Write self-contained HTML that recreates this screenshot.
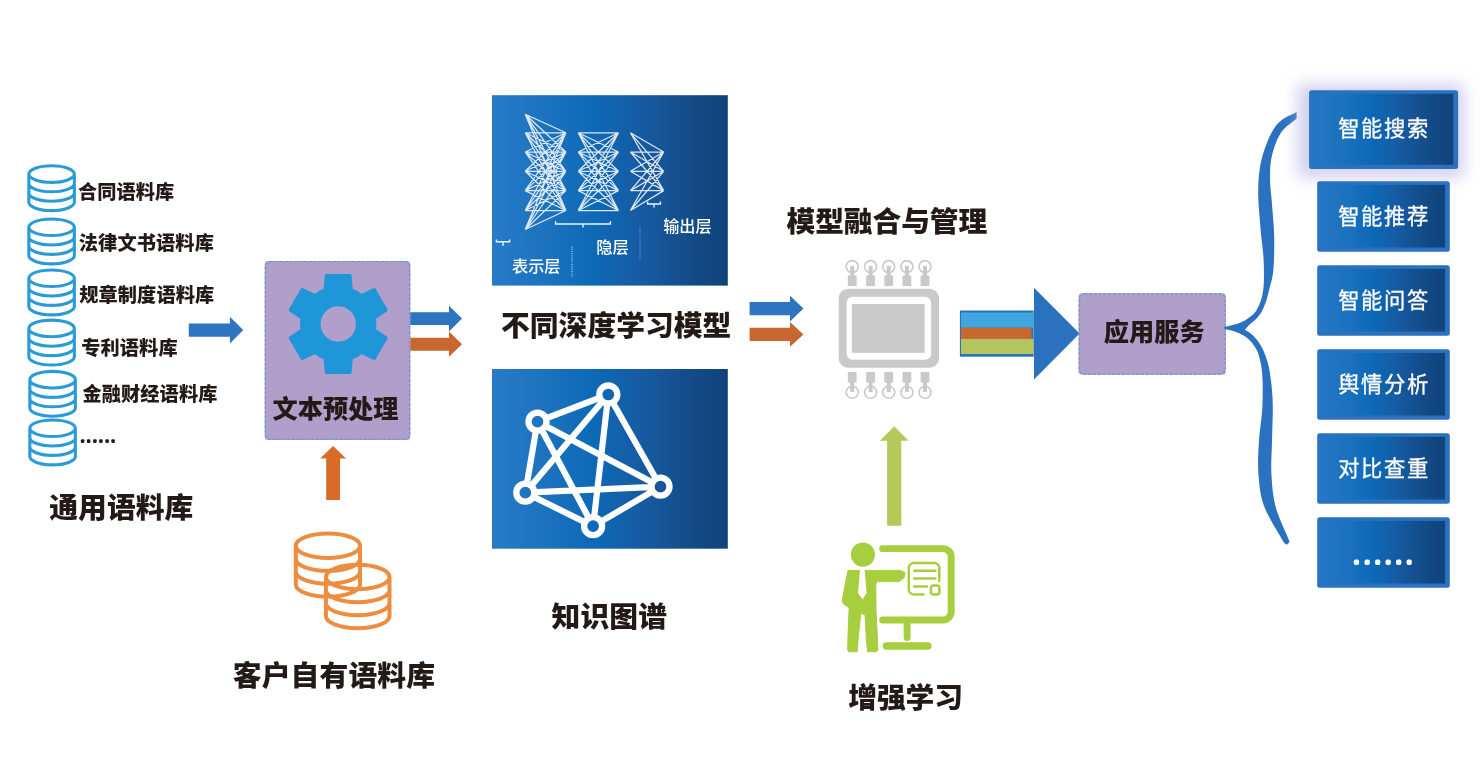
<!DOCTYPE html>
<html lang="zh-CN"><head><meta charset="utf-8"><title>智能文本处理平台架构</title>
<style>
html,body{margin:0;padding:0;background:#fff;}
body{width:1483px;height:765px;overflow:hidden;}
svg{display:block;font-family:"Liberation Sans","Noto Sans CJK SC",sans-serif;will-change:transform;}
text{white-space:pre;}
</style></head><body>
<svg width="1483" height="765" viewBox="0 0 1483 765">
<defs>
<linearGradient id="gb" gradientUnits="userSpaceOnUse" x1="492" y1="0" x2="727.8" y2="0">
<stop offset="0" stop-color="#277ac7"/><stop offset="0.22" stop-color="#1c73be"/><stop offset="0.43" stop-color="#0d69b7"/><stop offset="0.62" stop-color="#165ca3"/><stop offset="0.82" stop-color="#144d8b"/><stop offset="1" stop-color="#0f4279"/>
</linearGradient>
<linearGradient id="gs" x1="0" y1="0" x2="1" y2="0">
<stop offset="0" stop-color="#2677c5"/><stop offset="0.22" stop-color="#1c72bd"/><stop offset="0.43" stop-color="#0d69b7"/><stop offset="0.62" stop-color="#165ba2"/><stop offset="0.82" stop-color="#134c89"/><stop offset="1" stop-color="#0f437b"/>
</linearGradient>
<filter id="glow" x="-30%" y="-50%" width="160%" height="200%"><feGaussianBlur stdDeviation="8"/></filter>
</defs>
<path d="M28.85 174.05 A22.75 8.3 0 1 0 74.35 174.05 A22.75 8.3 0 1 0 28.85 174.05 Z M28.85 183.48 A22.75 8.3 0 0 0 74.35 183.48 M28.85 192.92 A22.75 8.3 0 0 0 74.35 192.92 M28.85 202.35 A22.75 8.3 0 0 0 74.35 202.35 M28.85 174.05 V202.35 M74.35 174.05 V202.35" fill="none" stroke="#2b9bd7" stroke-width="3.1"/>
<path d="M28.85 227.25 A22.75 8.3 0 1 0 74.35 227.25 A22.75 8.3 0 1 0 28.85 227.25 Z M28.85 236.68 A22.75 8.3 0 0 0 74.35 236.68 M28.85 246.12 A22.75 8.3 0 0 0 74.35 246.12 M28.85 255.55 A22.75 8.3 0 0 0 74.35 255.55 M28.85 227.25 V255.55 M74.35 227.25 V255.55" fill="none" stroke="#2b9bd7" stroke-width="3.1"/>
<path d="M28.85 278.25 A22.75 8.3 0 1 0 74.35 278.25 A22.75 8.3 0 1 0 28.85 278.25 Z M28.85 287.68 A22.75 8.3 0 0 0 74.35 287.68 M28.85 297.12 A22.75 8.3 0 0 0 74.35 297.12 M28.85 306.55 A22.75 8.3 0 0 0 74.35 306.55 M28.85 278.25 V306.55 M74.35 278.25 V306.55" fill="none" stroke="#2b9bd7" stroke-width="3.1"/>
<path d="M28.85 328.45 A22.75 8.3 0 1 0 74.35 328.45 A22.75 8.3 0 1 0 28.85 328.45 Z M28.85 337.88 A22.75 8.3 0 0 0 74.35 337.88 M28.85 347.32 A22.75 8.3 0 0 0 74.35 347.32 M28.85 356.75 A22.75 8.3 0 0 0 74.35 356.75 M28.85 328.45 V356.75 M74.35 328.45 V356.75" fill="none" stroke="#2b9bd7" stroke-width="3.1"/>
<path d="M29.85 379.65 A22.75 8.3 0 1 0 75.35 379.65 A22.75 8.3 0 1 0 29.85 379.65 Z M29.85 389.08 A22.75 8.3 0 0 0 75.35 389.08 M29.85 398.52 A22.75 8.3 0 0 0 75.35 398.52 M29.85 407.95 A22.75 8.3 0 0 0 75.35 407.95 M29.85 379.65 V407.95 M75.35 379.65 V407.95" fill="none" stroke="#2b9bd7" stroke-width="3.1"/>
<path d="M29.85 428.25 A22.75 8.3 0 1 0 75.35 428.25 A22.75 8.3 0 1 0 29.85 428.25 Z M29.85 437.68 A22.75 8.3 0 0 0 75.35 437.68 M29.85 447.12 A22.75 8.3 0 0 0 75.35 447.12 M29.85 456.55 A22.75 8.3 0 0 0 75.35 456.55 M29.85 428.25 V456.55 M75.35 428.25 V456.55" fill="none" stroke="#2b9bd7" stroke-width="3.1"/>
<text x="77.9" y="199.4" font-size="19.2" font-weight="900" fill="#231a17" text-anchor="start" letter-spacing="0.12">合同语料库</text>
<text x="78.8" y="250.2" font-size="19.2" font-weight="900" fill="#231a17" text-anchor="start" letter-spacing="0.12">法律文书语料库</text>
<text x="79.2" y="302.4" font-size="19.2" font-weight="900" fill="#231a17" text-anchor="start" letter-spacing="0.12">规章制度语料库</text>
<text x="81.2" y="355.4" font-size="19.2" font-weight="900" fill="#231a17" text-anchor="start" letter-spacing="0.12">专利语料库</text>
<text x="82.4" y="401.2" font-size="19.2" font-weight="900" fill="#231a17" text-anchor="start" letter-spacing="0.12">金融财经语料库</text>
<text x="81.2" y="441.6" font-size="10" font-weight="700" fill="#231a17" text-anchor="start" letter-spacing="3.34" stroke="#231a17" stroke-width="2.1" stroke-linejoin="round">......</text>
<text x="49.3" y="518" font-size="28.8" font-weight="900" fill="#231a17" text-anchor="start" letter-spacing="0.02">通用语料库</text>
<polygon points="188.8,323.5 229.9,323.5 229.9,316.7 243.2,330.1 229.9,343.5 229.9,336.7 188.8,336.7" fill="#2d74c1"/>
<rect x="264.7" y="260.9" width="145.6" height="179" rx="3.5" fill="#b09ecb"/>
<rect x="265.3" y="261.5" width="144.4" height="177.8" rx="5" fill="none" stroke="#6593d0" stroke-width="1.1" stroke-dasharray="3.2 1.6"/>
<path d="M350.95 289.91 L349.86 275.79 L326.54 275.79 L325.45 289.91 A36.4 36.4 0 0 0 315.05 295.91 L302.28 289.79 L290.62 310 L302.3 317.99 A36.4 36.4 0 0 0 302.3 330.01 L290.62 338 L302.28 358.21 L315.05 352.09 A36.4 36.4 0 0 0 325.45 358.09 L326.54 372.21 L349.86 372.21 L350.95 358.09 A36.4 36.4 0 0 0 361.35 352.09 L374.12 358.21 L385.78 338 L374.1 330.01 A36.4 36.4 0 0 0 374.1 317.99 L385.78 310 L374.12 289.79 L361.35 295.91 A36.4 36.4 0 0 0 350.95 289.91 Z M318.7 324 A19.5 19.5 0 1 0 357.7 324 A19.5 19.5 0 1 0 318.7 324 Z" fill="#1f96d8" fill-rule="evenodd" stroke="#1f96d8" stroke-width="3.6" stroke-linejoin="round"/>
<text x="335.5" y="418.3" font-size="25.2" font-weight="900" fill="#231a17" text-anchor="middle" >文本预处理</text>
<polygon points="410.3,312.3 449,312.3 449,305.8 462,318.6 449,331.4 449,324.9 410.3,324.9" fill="#2d74c1"/>
<polygon points="410.3,337.7 449,337.7 449,331.6 462,344.2 449,356.8 449,350.7 410.3,350.7" fill="#c8672f"/>
<polygon points="333.1,445.9 346.1,458.5 340,458.5 340,500 326.2,500 326.2,458.5 320.1,458.5" fill="#d86b27"/>
<path d="M295.8 545.8 A32.1 12.2 0 1 0 360 545.8 A32.1 12.2 0 1 0 295.8 545.8 Z M295.8 558.67 A32.1 12.2 0 0 0 360 558.67 M295.8 571.53 A32.1 12.2 0 0 0 360 571.53 M295.8 584.4 A32.1 12.2 0 0 0 360 584.4 M295.8 545.8 V584.4 M360 545.8 V584.4" fill="none" stroke="#ee8c40" stroke-width="4"/>
<path d="M325.9 577 A31.8 12.2 0 1 0 389.5 577 A31.8 12.2 0 1 0 325.9 577 Z M325.9 590 A31.8 12.2 0 0 0 389.5 590 M325.9 603 A31.8 12.2 0 0 0 389.5 603 M325.9 616 A31.8 12.2 0 0 0 389.5 616 M325.9 577 V616 M389.5 577 V616" fill="none" stroke="#ee8c40" stroke-width="4"/>
<text x="232.8" y="686.1" font-size="28.8" font-weight="900" fill="#231a17" text-anchor="start" letter-spacing="0.1">客户自有语料库</text>
<rect x="492" y="95.2" width="235.8" height="190.4" fill="url(#gb)"/>
<path d="M525.2 114.3L565.9 132.8M525.2 114.3L565.9 152M525.2 114.3L565.9 171.3M525.2 114.3L565.9 190.6M525.2 114.3L565.9 210.5M525.2 132.8L565.9 132.8M525.2 132.8L565.9 152M525.2 132.8L565.9 171.3M525.2 132.8L565.9 190.6M525.2 132.8L565.9 210.5M525.2 152L565.9 132.8M525.2 152L565.9 152M525.2 152L565.9 171.3M525.2 152L565.9 190.6M525.2 152L565.9 210.5M525.2 171.3L565.9 132.8M525.2 171.3L565.9 152M525.2 171.3L565.9 171.3M525.2 171.3L565.9 190.6M525.2 171.3L565.9 210.5M525.2 190.6L565.9 132.8M525.2 190.6L565.9 152M525.2 190.6L565.9 171.3M525.2 190.6L565.9 190.6M525.2 190.6L565.9 210.5M525.2 210.5L565.9 132.8M525.2 210.5L565.9 152M525.2 210.5L565.9 171.3M525.2 210.5L565.9 190.6M525.2 210.5L565.9 210.5M525.2 229.5L565.9 132.8M525.2 229.5L565.9 152M525.2 229.5L565.9 171.3M525.2 229.5L565.9 190.6M525.2 229.5L565.9 210.5M578.2 132.8L618.5 132.8M578.2 132.8L618.5 152M578.2 132.8L618.5 171.3M578.2 132.8L618.5 190.6M578.2 132.8L618.5 210.5M578.2 152L618.5 132.8M578.2 152L618.5 152M578.2 152L618.5 171.3M578.2 152L618.5 190.6M578.2 152L618.5 210.5M578.2 171.3L618.5 132.8M578.2 171.3L618.5 152M578.2 171.3L618.5 171.3M578.2 171.3L618.5 190.6M578.2 171.3L618.5 210.5M578.2 190.6L618.5 132.8M578.2 190.6L618.5 152M578.2 190.6L618.5 171.3M578.2 190.6L618.5 190.6M578.2 190.6L618.5 210.5M578.2 210.5L618.5 132.8M578.2 210.5L618.5 152M578.2 210.5L618.5 171.3M578.2 210.5L618.5 190.6M578.2 210.5L618.5 210.5M630.4 132.8L663.7 152M630.4 132.8L663.7 171.3M630.4 132.8L663.7 190.6M630.4 152L663.7 152M630.4 152L663.7 171.3M630.4 152L663.7 190.6M630.4 171.3L663.7 152M630.4 171.3L663.7 171.3M630.4 171.3L663.7 190.6M630.4 190.6L663.7 152M630.4 190.6L663.7 171.3M630.4 190.6L663.7 190.6M630.4 210.5L663.7 152M630.4 210.5L663.7 171.3M630.4 210.5L663.7 190.6" stroke="#eef2fa" stroke-width="1.25" stroke-opacity="0.92" fill="none"/>
<path d="M555.6 221.2V224H610.4V221.2M583 224V227.6" stroke="#eef4fc" stroke-width="1.4" fill="none"/>
<path d="M496.4 239.4V241.8H509.6V239.4M503 241.8V246" stroke="#eef4fc" stroke-width="1.4" fill="none"/>
<path d="M647.6 201.4V204H660.4V201.4M654 204V207.4" stroke="#eef4fc" stroke-width="1.4" fill="none"/>
<path d="M572 246.5V277.5" stroke="#6cc0f6" stroke-width="1.5" stroke-dasharray="1.2 1" fill="none"/>
<path d="M640 226.5V260" stroke="#5b9fdc" stroke-width="1.2" stroke-dasharray="1.2 1" fill="none" opacity="0.85"/>
<text x="663.2" y="232" font-size="16.2" font-weight="500" fill="#fff" text-anchor="start" >输出层</text>
<text x="596.2" y="252.9" font-size="16.3" font-weight="500" fill="#fff" text-anchor="start" >隐层</text>
<text x="512" y="272" font-size="16.2" font-weight="500" fill="#fff" text-anchor="start" >表示层</text>
<text x="501" y="336.2" font-size="28.8" font-weight="900" fill="#231a17" text-anchor="start" letter-spacing="0">不同深度学习模型</text>
<rect x="492" y="369" width="235.8" height="179.7" fill="url(#gb)"/>
<path d="M608.3 394.5L537.5 421.7M608.3 394.5L525.3 492.7M608.3 394.5L593.1 526.2M608.3 394.5L660.5 486.7M537.5 421.7L525.3 492.7M537.5 421.7L593.1 526.2M537.5 421.7L660.5 486.7M525.3 492.7L593.1 526.2M525.3 492.7L660.5 486.7M593.1 526.2L660.5 486.7" stroke="#fff" stroke-width="6.2" fill="none"/>
<circle cx="608.3" cy="394.5" r="9" fill="url(#gb)" stroke="#fff" stroke-width="6.3"/>
<circle cx="537.5" cy="421.7" r="9" fill="url(#gb)" stroke="#fff" stroke-width="6.3"/>
<circle cx="525.3" cy="492.7" r="9" fill="url(#gb)" stroke="#fff" stroke-width="6.3"/>
<circle cx="593.1" cy="526.2" r="9" fill="url(#gb)" stroke="#fff" stroke-width="6.3"/>
<circle cx="660.5" cy="486.7" r="9" fill="url(#gb)" stroke="#fff" stroke-width="6.3"/>
<text x="551.5" y="626.95" font-size="28.8" font-weight="900" fill="#231a17" text-anchor="start" letter-spacing="0.1">知识图谱</text>
<text x="786.5" y="231.8" font-size="28.8" font-weight="900" fill="#231a17" text-anchor="start" letter-spacing="-0.13">模型融合与管理</text>
<polygon points="749.6,301.9 790,301.9 790,295.8 803.5,308.6 790,321.4 790,315.3 749.6,315.3" fill="#2d74c1"/>
<polygon points="749.6,327.7 790,327.7 790,322 803.5,334.4 790,346.8 790,341.1 749.6,341.1" fill="#c8672f"/>
<rect x="838.7" y="288.8" width="100.3" height="78.9" rx="9.5" fill="#c9c9c9"/>
<rect x="846.6" y="296.7" width="84.5" height="63.1" rx="6" fill="#fff"/>
<rect x="851.9" y="304" width="72.7" height="48.8" fill="#c9c9c9"/>
<rect x="847.8" y="275.5" width="8.8" height="10.6" fill="#c9c9c9"/>
<rect x="850.2" y="266" width="4" height="10" fill="#c9c9c9"/>
<circle cx="852.2" cy="266.6" r="6" fill="none" stroke="#c9c9c9" stroke-width="1.6"/>
<rect x="847.8" y="372" width="8.8" height="10.6" fill="#c9c9c9"/>
<rect x="850.2" y="382" width="4" height="10" fill="#c9c9c9"/>
<circle cx="852.2" cy="392.2" r="6" fill="none" stroke="#c9c9c9" stroke-width="1.6"/>
<rect x="866.2" y="275.5" width="8.8" height="10.6" fill="#c9c9c9"/>
<rect x="868.6" y="266" width="4" height="10" fill="#c9c9c9"/>
<circle cx="870.6" cy="266.6" r="6" fill="none" stroke="#c9c9c9" stroke-width="1.6"/>
<rect x="866.2" y="372" width="8.8" height="10.6" fill="#c9c9c9"/>
<rect x="868.6" y="382" width="4" height="10" fill="#c9c9c9"/>
<circle cx="870.6" cy="392.2" r="6" fill="none" stroke="#c9c9c9" stroke-width="1.6"/>
<rect x="884.3" y="275.5" width="8.8" height="10.6" fill="#c9c9c9"/>
<rect x="886.7" y="266" width="4" height="10" fill="#c9c9c9"/>
<circle cx="888.7" cy="266.6" r="6" fill="none" stroke="#c9c9c9" stroke-width="1.6"/>
<rect x="884.3" y="372" width="8.8" height="10.6" fill="#c9c9c9"/>
<rect x="886.7" y="382" width="4" height="10" fill="#c9c9c9"/>
<circle cx="888.7" cy="392.2" r="6" fill="none" stroke="#c9c9c9" stroke-width="1.6"/>
<rect x="902.5" y="275.5" width="8.8" height="10.6" fill="#c9c9c9"/>
<rect x="904.9" y="266" width="4" height="10" fill="#c9c9c9"/>
<circle cx="906.9" cy="266.6" r="6" fill="none" stroke="#c9c9c9" stroke-width="1.6"/>
<rect x="902.5" y="372" width="8.8" height="10.6" fill="#c9c9c9"/>
<rect x="904.9" y="382" width="4" height="10" fill="#c9c9c9"/>
<circle cx="906.9" cy="392.2" r="6" fill="none" stroke="#c9c9c9" stroke-width="1.6"/>
<rect x="920.6" y="275.5" width="8.8" height="10.6" fill="#c9c9c9"/>
<rect x="923" y="266" width="4" height="10" fill="#c9c9c9"/>
<circle cx="925" cy="266.6" r="6" fill="none" stroke="#c9c9c9" stroke-width="1.6"/>
<rect x="920.6" y="372" width="8.8" height="10.6" fill="#c9c9c9"/>
<rect x="923" y="382" width="4" height="10" fill="#c9c9c9"/>
<circle cx="925" cy="392.2" r="6" fill="none" stroke="#c9c9c9" stroke-width="1.6"/>
<rect x="959.9" y="310.5" width="73.8" height="46.2" fill="#2a70bd"/>
<rect x="961" y="312.5" width="72.6" height="15.2" fill="#42a6de"/>
<rect x="961" y="327.7" width="70.6" height="11.2" fill="#c8682f"/>
<rect x="961" y="338.9" width="72.6" height="15.1" fill="#b4c55f"/>
<polygon points="1034,287.8 1079.6,333.4 1034,379.4" fill="#2a72c0"/>
<rect x="1078.6" y="293.3" width="147.2" height="81.4" rx="3.5" fill="#b09ecb"/>
<rect x="1079.2" y="293.9" width="146" height="80.2" rx="5" fill="none" stroke="#6593d0" stroke-width="1.1" stroke-dasharray="3.2 1.6"/>
<text x="1154.2" y="340.9" font-size="25.2" font-weight="900" fill="#231a17" text-anchor="middle" >应用服务</text>
<polygon points="894.2,426.2 908.6,440.7 901.3,440.7 901.3,525.7 887.1,525.7 887.1,440.7 879.8,440.7" fill="#b3ca5b"/>
<circle cx="862.9" cy="554.6" r="12.1" fill="#a6ce3e"/>
<polygon points="848,570.4 900,570.4 905.2,572.5 904,578 899,581.6 877,581.6 875.8,584 876,610 878,650 876,651.7 867.6,651.7 866.4,640 865,614.6 860.8,613.6 858,640 857.2,651.7 848.6,651.7 847.6,649 848.6,620 849.2,608 843,603.5 842.3,600 845,585" fill="#a6ce3e" stroke="#a6ce3e" stroke-width="1" stroke-linejoin="round"/>
<polygon points="860,569.5 864.6,569.5 866.6,593 862.6,599.4 858,593" fill="#fff"/>
<path d="M882.6 548.65H943a8.2 8.2 0 0 1 8.2 8.2V611.8a8.2 8.2 0 0 1 -8.2 8.2H882.6" fill="none" stroke="#a6ce3e" stroke-width="6.9" stroke-linecap="round"/>
<path d="M907.1 623V637.5" stroke="#a6ce3e" stroke-width="7" stroke-linecap="round"/>
<path d="M886.4 646H928" stroke="#a6ce3e" stroke-width="7.4" stroke-linecap="round"/>
<path d="M923.5 594.4H913.8a5 5 0 0 1 -5-5V568.1a5 5 0 0 1 5-5H934.3a5 5 0 0 1 5 5V581" fill="none" stroke="#a6ce3e" stroke-width="2.5" stroke-linecap="round"/>
<rect x="931" y="585.6" width="8.4" height="8.8" rx="2.5" fill="none" stroke="#a6ce3e" stroke-width="2.5"/>
<path d="M914.2 570.8H935.4M914.2 578.6H935.4M914.2 586.6H927" stroke="#a6ce3e" stroke-width="2.5" stroke-linecap="round"/>
<text x="848.35" y="708.3" font-size="28.8" font-weight="900" fill="#231a17" text-anchor="start" letter-spacing="-0.2">增强学习</text>
<polygon points="1296.6,111.9 1294.33,113.13 1291.13,114.66 1287.36,116.55 1283.41,118.87 1279.63,121.66 1276.4,125 1273.62,129.04 1270.98,133.77 1268.51,138.98 1266.27,144.46 1264.28,150.01 1262.6,155.4 1261.25,160.63 1260.19,165.86 1259.4,171.14 1258.83,176.56 1258.44,182.15 1258.2,188 1258.17,194.24 1258.41,200.85 1258.83,207.64 1259.35,214.44 1259.9,221.05 1260.4,227.3 1260.92,233.16 1261.53,238.79 1262.16,244.23 1262.76,249.54 1263.26,254.78 1263.6,260 1263.8,265.29 1263.93,270.62 1263.96,275.88 1263.87,280.94 1263.62,285.69 1263.2,290 1262.57,293.88 1261.74,297.41 1260.76,300.64 1259.68,303.56 1258.54,306.21 1257.4,308.6 1256.25,310.64 1255.05,312.3 1253.8,313.69 1252.48,314.9 1251.09,316.03 1249.6,317.2 1248.05,318.37 1246.45,319.47 1244.78,320.49 1242.99,321.44 1241.08,322.35 1239,323.2 1236.53,324.03 1233.65,324.83 1230.64,325.57 1227.77,326.24 1225.33,326.79 1223.6,327.2 1224.97,329.03 1226.89,329.48 1229.15,330.01 1231.56,330.62 1233.91,331.29 1236,332 1237.89,332.75 1239.73,333.56 1241.53,334.43 1243.24,335.36 1244.88,336.35 1246.4,337.4 1247.81,338.51 1249.11,339.67 1250.33,340.89 1251.47,342.18 1252.55,343.55 1253.6,345 1254.6,346.46 1255.54,347.9 1256.43,349.43 1257.27,351.12 1258.05,353.08 1258.8,355.4 1259.52,358.03 1260.22,360.89 1260.88,364.01 1261.46,367.44 1261.94,371.23 1262.3,375.4 1262.54,380.1 1262.68,385.33 1262.72,390.91 1262.67,396.66 1262.53,402.42 1262.3,408 1261.91,413.44 1261.34,418.89 1260.69,424.34 1260.02,429.8 1259.43,435.25 1259,440.7 1258.67,446.15 1258.37,451.6 1258.14,457.06 1258.04,462.51 1258.11,467.96 1258.4,473.4 1258.81,478.8 1259.29,484.15 1259.94,489.49 1260.87,494.89 1262.19,500.37 1264,506 1266.67,512.22 1270.19,519.08 1274.1,526.04 1277.93,532.54 1281.22,538.04 1283.5,542 1283.83,542.35 1284.28,542.89 1284.82,543.49 1285.4,544.06 1285.97,544.47 1286.5,544.6 1287.04,544.42 1287.63,544 1288.22,543.43 1288.76,542.77 1289.17,542.11 1289.4,541.5 1289.55,541.27 1289.67,541.42 1289.67,541.56 1289.46,541.29 1288.93,540.24 1288,538 1286.45,534.32 1284.31,529.47 1281.86,523.82 1279.38,517.77 1277.13,511.7 1275.4,506 1274.18,500.6 1273.26,495.18 1272.58,489.74 1272.07,484.3 1271.7,478.85 1271.4,473.4 1271.23,468.03 1271.26,462.75 1271.41,457.46 1271.62,452.09 1271.84,446.53 1272,440.7 1272.16,434.45 1272.37,427.83 1272.59,421.03 1272.76,414.24 1272.81,407.66 1272.7,401.5 1272.4,395.64 1271.96,389.89 1271.41,384.36 1270.77,379.14 1270.09,374.32 1269.4,370 1268.67,366.25 1267.88,363.02 1267.04,360.19 1266.17,357.66 1265.29,355.3 1264.4,353 1263.52,350.84 1262.64,348.9 1261.74,347.15 1260.81,345.52 1259.83,343.95 1258.8,342.4 1257.69,340.85 1256.5,339.35 1255.27,337.92 1254.03,336.57 1252.8,335.32 1251.6,334.2 1250.36,333.18 1249.05,332.26 1247.75,331.44 1246.55,330.73 1245.54,330.15 1244.8,329.7 1245.31,329.15 1245.99,328.39 1246.81,327.49 1247.72,326.51 1248.66,325.53 1249.6,324.6 1250.56,323.73 1251.59,322.87 1252.66,322.01 1253.74,321.11 1254.8,320.18 1255.8,319.2 1256.76,318.19 1257.69,317.17 1258.6,316.11 1259.49,314.99 1260.36,313.76 1261.2,312.4 1262.02,310.92 1262.82,309.33 1263.6,307.65 1264.36,305.87 1265.09,303.98 1265.8,302 1266.48,299.92 1267.13,297.76 1267.75,295.49 1268.36,293.12 1268.98,290.62 1269.6,288 1270.27,285.37 1270.98,282.75 1271.69,280.02 1272.36,277.03 1272.94,273.63 1273.4,269.7 1273.74,265.08 1274,259.86 1274.18,254.24 1274.27,248.43 1274.28,242.61 1274.2,237 1274,231.49 1273.68,225.89 1273.27,220.29 1272.83,214.79 1272.39,209.46 1272,204.4 1271.61,199.62 1271.17,195.07 1270.74,190.69 1270.36,186.44 1270.1,182.3 1270,178.2 1270.02,174.2 1270.11,170.35 1270.31,166.59 1270.67,162.87 1271.22,159.16 1272,155.4 1273.02,151.5 1274.24,147.47 1275.65,143.45 1277.25,139.55 1279.04,135.89 1281,132.6 1283.4,129.6 1286.29,126.76 1289.36,124.17 1292.31,121.9 1294.83,120.02 1296.6,118.6" fill="#2a72c0"/>
<rect x="1297" y="84" width="167" height="94" rx="4" fill="#b5b1e6" opacity="0.6" filter="url(#glow)"/>
<rect x="1309.1" y="90.2" width="149" height="78.8" rx="2.5" fill="#2a71bf"/><rect x="1310.1" y="93.8" width="143.2" height="71" fill="url(#gs)"/>
<text x="1384" y="136.45" font-size="21.3" font-weight="400" fill="#fff" text-anchor="middle" letter-spacing="1.62" stroke="#fff" stroke-width="0.3">智能搜索</text>
<rect x="1317.2" y="181.3" width="132.6" height="70.4" rx="2.5" fill="#2a71bf"/><rect x="1318.2" y="184.9" width="126.8" height="62.6" fill="url(#gs)"/>
<text x="1384" y="224.25" font-size="21.3" font-weight="400" fill="#fff" text-anchor="middle" letter-spacing="1.62" stroke="#fff" stroke-width="0.3">智能推荐</text>
<rect x="1317.2" y="265.3" width="132.6" height="70.4" rx="2.5" fill="#2a71bf"/><rect x="1318.2" y="268.9" width="126.8" height="62.6" fill="url(#gs)"/>
<text x="1384" y="308.25" font-size="21.3" font-weight="400" fill="#fff" text-anchor="middle" letter-spacing="1.62" stroke="#fff" stroke-width="0.3">智能问答</text>
<rect x="1317.2" y="349.3" width="132.6" height="70.4" rx="2.5" fill="#2a71bf"/><rect x="1318.2" y="352.9" width="126.8" height="62.6" fill="url(#gs)"/>
<text x="1384" y="392.25" font-size="21.3" font-weight="400" fill="#fff" text-anchor="middle" letter-spacing="1.62" stroke="#fff" stroke-width="0.3">舆情分析</text>
<rect x="1317.2" y="433.3" width="132.6" height="70.4" rx="2.5" fill="#2a71bf"/><rect x="1318.2" y="436.9" width="126.8" height="62.6" fill="url(#gs)"/>
<text x="1384" y="476.25" font-size="21.3" font-weight="400" fill="#fff" text-anchor="middle" letter-spacing="1.62" stroke="#fff" stroke-width="0.3">对比查重</text>
<rect x="1317.2" y="517.3" width="132.6" height="70.4" rx="2.5" fill="#2a71bf"/><rect x="1318.2" y="520.9" width="126.8" height="62.6" fill="url(#gs)"/>
<text x="1354.6" y="563.3" font-size="14" font-weight="400" fill="#fff" text-anchor="start" letter-spacing="6.65" stroke="#fff" stroke-width="3.9" stroke-linejoin="round">......</text>
</svg>
</body></html>
